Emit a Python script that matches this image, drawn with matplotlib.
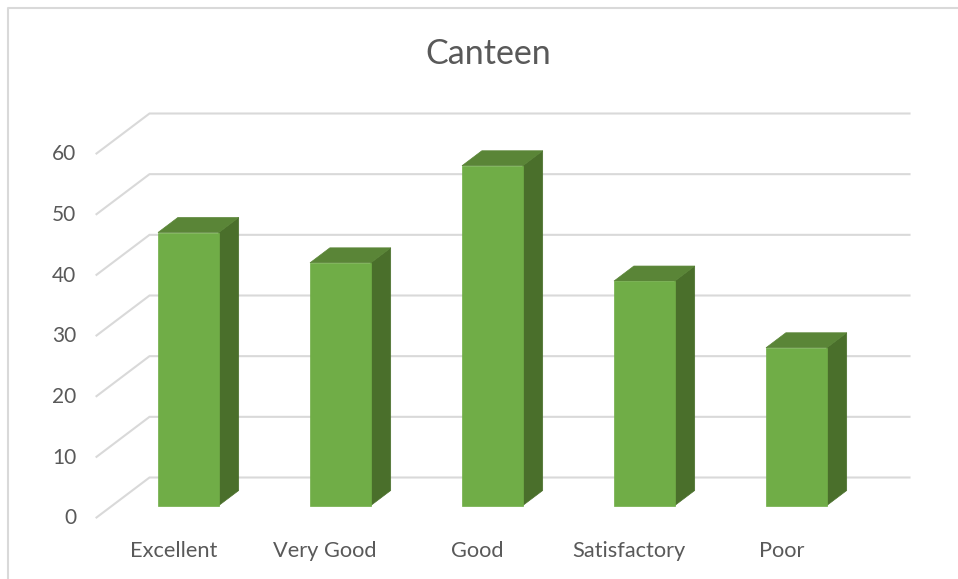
import matplotlib.pyplot as plt
from matplotlib.lines import Line2D

plt.rcParams['font.family'] = ['Lato', 'DejaVu Sans']

categories = ['Excellent', 'Very Good', 'Good', 'Satisfactory', 'Poor']
values = [45, 40, 56, 37, 26]
yticks = [0, 10, 20, 30, 40, 50, 60]

W, H = 958, 579
fig = plt.figure(figsize=(W / 100, H / 100), dpi=100)

# back wall of the fake 3D box: x 150-910 px, y 113-477 px
ax = fig.add_axes([149.5 / W, 1 - 477.5 / H, 760 / W, 364 / H])
ax.set_xlim(0, 5)
ax.set_ylim(0, 60)
ax.axis('off')

# how far the floor depth moves things, in data units
DX = -53 / 152
DY = -40 / (364 / 60)
D_BACK, D_FRONT = 0.325, 0.7
BAR_W = 0.4


def proj(x, v, d):
    return x + DX * d, v + DY * d


# gridlines, wall plus floor edge
for t in yticks:
    x0, y0 = proj(0, t, 1)
    ax.plot([x0, 0, 5], [y0, t, t], color='#D9D9D9', lw=1.5, clip_on=False,
            solid_joinstyle='miter', zorder=1)
    ax.annotate(str(t), (x0, y0), xytext=(-14.5, -0.5), textcoords='offset points',
                ha='right', va='center', fontsize=15, color='#595959',
                annotation_clip=False)

# bars
for i, (name, v) in enumerate(zip(categories, values)):
    l, r = i + 0.5 - BAR_W / 2, i + 0.5 + BAR_W / 2
    fl, fb = proj(l, 0, D_FRONT)
    fr, ft = proj(r, v, D_FRONT)
    bl, bb = proj(l, 0, D_BACK)
    br, bt = proj(r, v, D_BACK)
    ax.fill([fr, br, br, fr], [fb, bb, bt, ft], color='#4A6F2B', lw=0.5, clip_on=False, zorder=3)
    ax.fill([fl, bl, br, fr], [ft, bt, bt, ft], color='#5A8537', lw=0.5, clip_on=False, zorder=3)
    ax.fill([fl, fr, fr, fl], [fb, fb, ft, ft], color='#70AD47', lw=0.5, clip_on=False, zorder=4)
    cx, cy = proj(i + 0.5, 0, 1)
    ax.annotate(name, (cx, cy), xytext=(0.5, -24), textcoords='offset points',
                ha='center', va='center', fontsize=15.7, color='#595959',
                annotation_clip=False)

fig.text(488 / W, 1 - 53.5 / H, 'Canteen', ha='center', va='center',
         fontsize=24.5, color='#595959')

# chart frame, only top and left are inside the crop
fig.add_artist(Line2D([8 / W, 8 / W, 1], [0, 1 - 8 / H, 1 - 8 / H], color='#D9D9D9', lw=1.5))

fig.savefig('out.png', dpi=100)
